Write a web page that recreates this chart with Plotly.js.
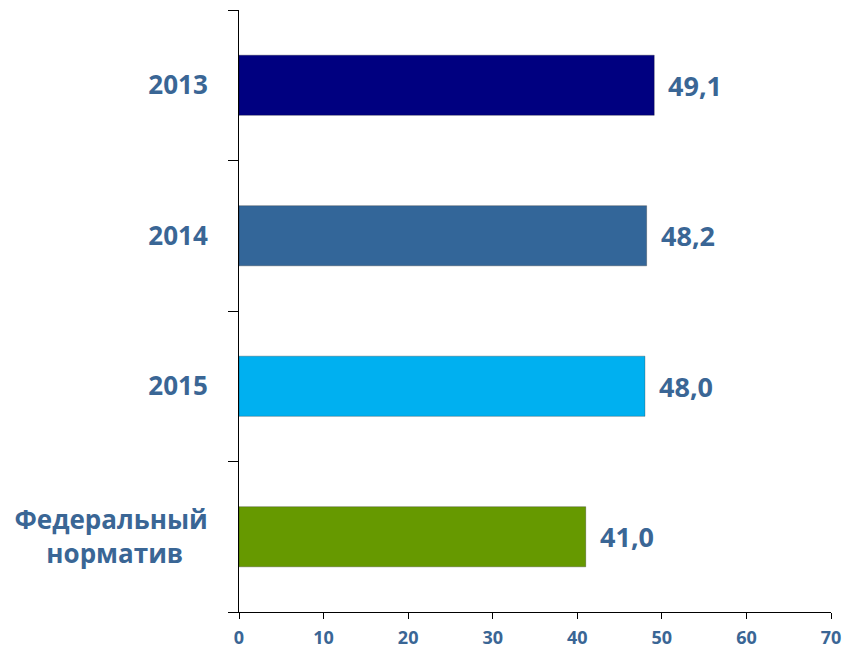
<!DOCTYPE html>
<html>
<head>
<meta charset="utf-8">
<script src="https://cdn.plot.ly/plotly-3.0.1.min.js"></script>
<style>html,body{margin:0;padding:0;background:#fff;}#chart{width:846px;height:649px;}</style>
</head>
<body>
<div id="chart"></div>
<script>
const categories = ['2013', '2014', '2015', 'Федеральный<br>норматив\u00a0\u00a0\u00a0\u2009'];
const values = [49.1, 48.2, 48.0, 41.0];
const labels = ['49,1', '48,2', '48,0', '41,0'];
const barColors = ['#000080', '#336699', '#00B0F0', '#669900'];
const xTicks = [0, 10, 20, 30, 40, 50, 60, 70];

const textColor = '#3A6695';
const font = 'Open Sans, sans-serif';

const positions = categories.map((c, i) => i);
const boundaries = [-0.5].concat(positions.map(p => p + 0.5));

const trace = {
  type: 'bar',
  orientation: 'h',
  y: positions,
  x: values,
  width: 0.4,
  marker: {color: barColors, line: {color: 'rgba(0,0,0,0.25)', width: 1}},
  hoverinfo: 'none'
};

// invisible trace to carry the boundary ticks axis
const tickTrace = {
  type: 'scatter', mode: 'markers', x: [0], y: [0], yaxis: 'y2',
  marker: {opacity: 0}, hoverinfo: 'none', showlegend: false
};

const annotations = values.map((v, i) => ({
  x: v, y: positions[i], xref: 'x', yref: 'y',
  text: labels[i], showarrow: false,
  xanchor: 'left', yanchor: 'middle', xshift: 12,
  font: {family: font, size: 27, color: textColor, weight: 700}
}));

const yRange = [categories.length - 0.5, -0.5];

const layout = {
  width: 846, height: 649,
  margin: {l: 239, r: 15, t: 10, b: 37},
  paper_bgcolor: '#fff', plot_bgcolor: '#fff',
  showlegend: false,
  xaxis: {
    range: [0, 70], tickvals: xTicks, ticktext: xTicks.map(String),
    showgrid: false, zeroline: false,
    showline: true, linecolor: '#000', linewidth: 1,
    ticks: 'outside', ticklen: 6, tickcolor: '#000',
    ticklabelstandoff: 3,
    tickfont: {family: font, size: 18, color: textColor, weight: 700},
    fixedrange: true
  },
  yaxis: {
    range: yRange, tickvals: positions, ticktext: categories,
    showgrid: false, zeroline: false,
    showline: true, linecolor: '#000', linewidth: 1,
    ticks: '', ticklabelstandoff: 25,
    tickfont: {family: font, size: 26, color: textColor, weight: 700},
    fixedrange: true
  },
  yaxis2: {
    overlaying: 'y', side: 'left', range: yRange,
    tickvals: boundaries, showticklabels: false,
    showgrid: false, zeroline: false, showline: false,
    ticks: 'outside', ticklen: 10, tickcolor: '#000',
    fixedrange: true
  },
  annotations: annotations
};

Plotly.newPlot('chart', [trace, tickTrace], layout, {displayModeBar: false, staticPlot: true});
</script>
</body>
</html>
